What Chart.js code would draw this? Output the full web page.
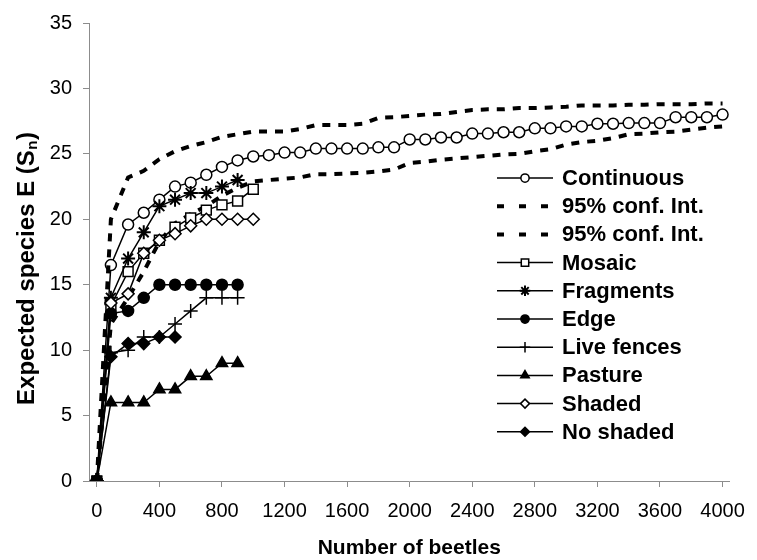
<!DOCTYPE html>
<html>
<head>
<meta charset="utf-8">
<title>Expected species vs number of beetles</title>
<script src="https://cdn.jsdelivr.net/npm/chart.js@4.4.1/dist/chart.umd.min.js"></script>
<style>
  html, body { margin: 0; padding: 0; background: #fff; }
  #wrap { width: 757px; height: 560px; }
</style>
</head>
<body>
<div id="wrap"><canvas id="myChart" width="757" height="560"></canvas></div>
<script>
// ------------- data ------------------------------------
const beetlesAll = [0, 90, 200, 300, 400, 500, 600, 700, 800, 900, 1000,
  1100, 1200, 1300, 1400, 1500, 1600, 1700, 1800, 1900, 2000,
  2100, 2200, 2300, 2400, 2500, 2600, 2700, 2800, 2900, 3000,
  3100, 3200, 3300, 3400, 3500, 3600, 3700, 3800, 3900, 4000];
const continuous = [0, 16.5, 19.6, 20.5, 21.5, 22.5, 22.8, 23.4, 24.0, 24.5, 24.8,
  24.9, 25.1, 25.1, 25.4, 25.4, 25.4, 25.4, 25.5, 25.5, 26.1,
  26.1, 26.25, 26.25, 26.55, 26.55, 26.65, 26.65, 26.95, 26.95, 27.1,
  27.1, 27.3, 27.3, 27.35, 27.35, 27.35, 27.8, 27.8, 27.8, 28.0];
const upperCI = [0, 20.0, 23.2, 23.7, 24.6, 25.2, 25.6, 25.9, 26.3, 26.5, 26.7,
  26.7, 26.7, 26.9, 27.2, 27.2, 27.2, 27.3, 27.75, 27.8, 27.9,
  28.0, 28.05, 28.2, 28.35, 28.4, 28.4, 28.5, 28.5, 28.55, 28.6,
  28.7, 28.7, 28.7, 28.75, 28.75, 28.8, 28.8, 28.8, 28.85, 28.85];
const lowerCI = [0, 12.0, 14.0, 16.0, 18.3, 19.7, 20.4, 21.0, 21.8, 22.4, 22.9,
  23.0, 23.1, 23.2, 23.45, 23.45, 23.5, 23.55, 23.65, 23.8, 24.3,
  24.4, 24.55, 24.65, 24.75, 24.85, 24.95, 25.0, 25.2, 25.35, 25.7,
  25.9, 26.0, 26.2, 26.5, 26.55, 26.65, 26.7, 26.85, 27.0, 27.1];

const beetlesSites = [0, 90, 200, 300, 400, 500, 600, 700, 800, 900, 1000];
const mosaic = [0, 13.4, 16.0, 17.4, 18.4, 19.4, 20.1, 20.7, 21.1, 21.4, 22.3];
const fragments = [0, 14.0, 17.0, 19.0, 21.0, 21.5, 22.0, 22.0, 22.5, 23.0];
const edge = [0, 12.8, 13.0, 14.0, 15, 15, 15, 15, 15, 15];
const liveFences = [0, 9.8, 10.0, 11.0, 11.0, 12.0, 13.0, 14.0, 14.0, 14.0];
const pasture = [0, 6, 6, 6, 7, 7, 8, 8, 9, 9];
const shaded = [0, 13.6, 14.3, 17.4, 18.4, 18.9, 19.5, 20.0, 20.0, 20.0, 20.0];
const noShaded = [0, 9.5, 10.5, 10.5, 11.0, 11.0];

const xTicks = [0, 400, 800, 1200, 1600, 2000, 2400, 2800, 3200, 3600, 4000];
const yTicks = [0, 5, 10, 15, 20, 25, 30, 35];

// ------------- helpers ----------------
const FONT = '"Liberation Sans", Arial, Helvetica, sans-serif';
const AXIS_GREY = "#8c8c8c";
const pts = (xs, ys) => ys.map((y, i) => ({ x: xs[i], y: y }));

function series(label, xs, ys, style, radius, filled, markerWidth) {
  return {
    label: label,
    data: pts(xs, ys),
    borderColor: "#000",
    borderWidth: 1.5,
    pointStyle: style,
    pointRadius: radius,
    pointHoverRadius: radius,
    pointBorderColor: "#000",
    pointBorderWidth: markerWidth || 1.5,
    pointBackgroundColor: filled ? "#000" : "#fff",
    tension: 0,
  };
}

function ciSeries(ys) {
  return {
    label: "95% conf. Int.",
    data: pts(beetlesAll, ys),
    borderColor: "#000",
    borderWidth: 4,
    borderDash: [8, 8],
    legendDash: [7, 15],
    borderCapStyle: "butt",
    pointRadius: 0,
    pointHoverRadius: 0,
    tension: 0,
  };
}

// legend drawn inside the plot, Excel style
const insideLegend = {
  id: "insideLegend",
  afterDraw(chart) {
    const ctx = chart.ctx;
    const x0 = 497, x1 = 553, tx = 562;
    ctx.save();
    chart.data.datasets.forEach((ds, i) => {
      const y = 178 + i * 28.2;
      ctx.strokeStyle = "#000";
      ctx.lineWidth = ds.borderWidth;
      ctx.lineCap = "butt";
      ctx.setLineDash(ds.legendDash || []);
      ctx.beginPath();
      ctx.moveTo(x0, y);
      ctx.lineTo(x1, y);
      ctx.stroke();
      ctx.setLineDash([]);
      if (ds.pointRadius > 0) {
        ctx.fillStyle = ds.pointBackgroundColor;
        ctx.lineWidth = ds.pointBorderWidth;
        Chart.helpers.drawPoint(ctx, {
          pointStyle: ds.pointStyle,
          radius: ds.pointRadius * 0.75,
          borderWidth: ds.pointBorderWidth,
          rotation: 0,
        }, (x0 + x1) / 2, y);
      }
      ctx.fillStyle = "#000";
      ctx.font = "bold 22px " + FONT;
      ctx.textAlign = "left";
      ctx.textBaseline = "middle";
      ctx.fillText(ds.label, tx, y + 1);
    });
    ctx.restore();
  },
};

// y title with a subscript n
const yTitle = {
  id: "yTitle",
  afterDraw(chart) {
    const ctx = chart.ctx;
    const big = "bold 24px " + FONT, small = "bold 15px " + FONT;
    const main = "Expected species E (S", sub = "n", end = ")";
    ctx.save();
    ctx.translate(27, 269);
    ctx.rotate(-Math.PI / 2);
    ctx.fillStyle = "#000";
    ctx.textAlign = "left";
    ctx.textBaseline = "middle";
    ctx.font = big;
    const w1 = ctx.measureText(main).width, w3 = ctx.measureText(end).width;
    ctx.font = small;
    const w2 = ctx.measureText(sub).width;
    let x = -(w1 + w2 + w3) / 2;
    ctx.font = big;
    ctx.fillText(main, x, 0);
    x += w1;
    ctx.font = small;
    ctx.fillText(sub, x + 0.5, 6);
    x += w2 + 1;
    ctx.font = big;
    ctx.fillText(end, x, 0);
    ctx.restore();
  },
};

document.addEventListener("DOMContentLoaded", () => {
  const datasets = [
    series("Continuous", beetlesAll, continuous, "circle", 5.5, false),
    ciSeries(upperCI),
    ciSeries(lowerCI),
    series("Mosaic", beetlesSites, mosaic, "rect", 7, false),
    series("Fragments", beetlesSites, fragments, "star", 7, false, 2),
    series("Edge", beetlesSites, edge, "circle", 5.5, true),
    series("Live fences", beetlesSites, liveFences, "cross", 7, false),
    series("Pasture", beetlesSites, pasture, "triangle", 6.5, true),
    series("Shaded", beetlesSites, shaded, "rectRot", 6, false),
    series("No shaded", beetlesSites, noShaded, "rectRot", 6, true),
  ];
  // later series drawn on top, as in the original
  datasets.forEach((ds, i) => { ds.order = datasets.length - i; });

  const ctx = document.getElementById("myChart");
  new Chart(ctx, {
    type: "line",
    data: { datasets: datasets },
    plugins: [insideLegend, yTitle],
    options: {
      responsive: false,
      animation: false,
      events: [],
      layout: { padding: { top: 17, right: 18, bottom: 0, left: 0 } },
      plugins: {
        legend: { display: false },
        tooltip: { enabled: false },
      },
      scales: {
        x: {
          type: "linear",
          position: "bottom",
          min: -50,
          max: 4045,
          afterBuildTicks: (scale) => { scale.ticks = xTicks.map((v) => ({ value: v })); },
          afterFit: (scale) => { scale.height = 79; },
          grid: { drawOnChartArea: false, drawTicks: true, tickLength: 6, color: AXIS_GREY },
          border: { display: true, color: AXIS_GREY, width: 1 },
          ticks: {
            padding: 12,
            maxRotation: 0,
            autoSkip: false,
            color: "#000",
            font: { family: FONT, size: 20 },
            callback: (v) => String(v),
          },
          title: {
            display: true,
            text: "Number of beetles",
            color: "#000",
            font: { family: FONT, size: 21, weight: "bold", lineHeight: 1 },
            padding: { top: 0, bottom: 1 },
          },
        },
        y: {
          min: 0,
          max: 35,
          afterBuildTicks: (scale) => { scale.ticks = yTicks.map((v) => ({ value: v })); },
          afterFit: (scale) => { scale.width = 89; },
          grid: { drawOnChartArea: false, drawTicks: true, tickLength: 6, color: AXIS_GREY },
          border: { display: true, color: AXIS_GREY, width: 1 },
          ticks: {
            padding: 11,
            color: "#000",
            font: { family: FONT, size: 20 },
            callback: (v) => String(v),
          },
        },
      },
    },
  });
});
</script>
</body>
</html>
